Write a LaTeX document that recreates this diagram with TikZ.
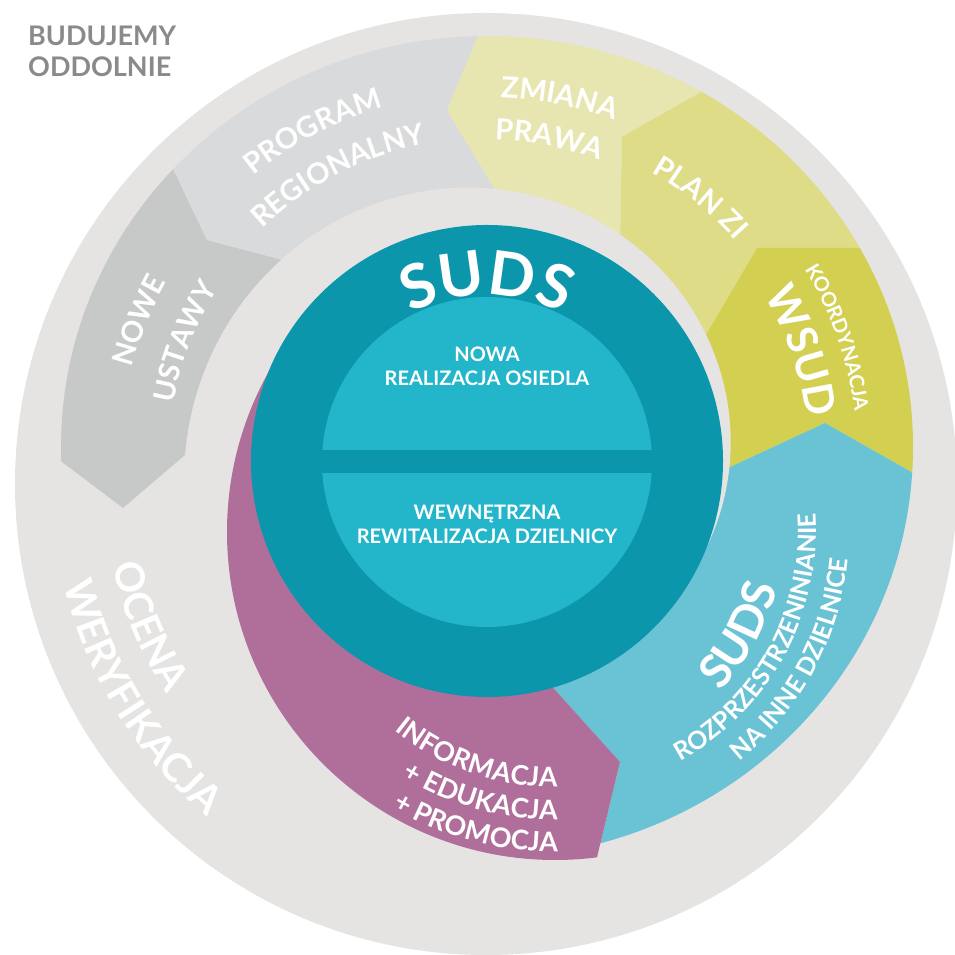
\documentclass[tikz,border=0pt]{standalone}
\usepackage{fontspec}
\setmainfont{Lato}
\usetikzlibrary{decorations.text,calc}
\definecolor{ringgray}{RGB}{229,228,227}
\definecolor{nowegray}{RGB}{199,200,200}
\definecolor{proggray}{RGB}{217,218,219}
\definecolor{zmianacol}{RGB}{232,230,176}
\definecolor{planzicol}{RGB}{222,220,134}
\definecolor{wsudcol}{RGB}{211,208,81}
\definecolor{sblue}{RGB}{106,195,213}
\definecolor{purp}{RGB}{176,111,155}
\definecolor{tealdark}{RGB}{11,150,171}
\definecolor{teallight}{RGB}{35,182,202}
\definecolor{textgray}{RGB}{138,138,138}
\newcommand\segfont{\fontsize{29}{29}\selectfont\bfseries}
\newcommand\smallsegfont{\fontsize{20}{20}\selectfont\bfseries}
\newcommand\bigsegfont{\fontsize{42}{42}\selectfont\bfseries}
\newcommand\lowfont{\fontsize{27}{27}\selectfont\bfseries}
\newcommand\rozfont{\fontsize{25}{25}\selectfont\bfseries}
\newcommand\sudsbfont{\fontsize{46}{46}\selectfont\bfseries}
\newcommand\ocenafont{\fontsize{40}{40}\selectfont\bfseries}
\newcommand\sudsfont{\fontsize{61}{61}\selectfont\bfseries}
\begin{document}
\begin{tikzpicture}[x=1pt,y=1pt,
  arctextc/.style={decorate, decoration={text along path, text align=center, text color=white, text={#1}}},
  arctextr/.style={decorate, decoration={text along path, text align=right, text color=white, text={#1}}},
  ctext/.style={text=white, font=\fontsize{20}{24}\selectfont\bfseries, align=center, inner sep=0pt},
  titletext/.style={text=textgray, font=\fontsize{27}{27}\selectfont\bfseries, inner sep=0pt, anchor=base west}]
\useasboundingbox (0,0) rectangle (954,955);
\coordinate (T) at (487,494);
\coordinate (O) at (486,471);
\coordinate (Pc) at (555,423);
\coordinate (Ec) at (487,508);

% outer gray disc
\fill[ringgray] (O) circle[radius=471];

% spiral band segments
\begin{scope}
\clip (Ec) ellipse[x radius=426, y radius=411];
\fill[nowegray] (T) -- (185,500) -- (123,447) -- (62,493) -- (0,493) -- ([shift={(170:700)}]T) -- ([shift={(150:700)}]T) -- ([shift={(140:700)}]T) -- (157,820) -- (207,715) -- (283,695) -- cycle;
\fill[proggray] (T) -- (283,695) -- (207,715) -- (157,820) -- ([shift={(130:700)}]T) -- ([shift={(110:700)}]T) -- ([shift={(95:700)}]T) -- (491,950) -- (447,845) -- (497,762) -- cycle;
\fill[zmianacol] (T) -- (497,762) -- (447,845) -- (491,950) -- ([shift={(85:700)}]T) -- ([shift={(70:700)}]T) -- (740,885) -- (622,818) -- (620,700) -- cycle;
\fill[planzicol] (T) -- (620,700) -- (622,818) -- (740,885) -- ([shift={(55:700)}]T) -- ([shift={(40:700)}]T) -- (1000,707) -- (757,707) -- (696,603) -- cycle;
\fill[wsudcol] (T) -- (696,603) -- (757,707) -- (1000,707) -- ([shift={(20:700)}]T) -- ([shift={(5:700)}]T) -- (957,457) -- (825,532) -- (700,474) -- cycle;
\fill[sblue] (T) -- (700,474) -- (825,532) -- (957,457) -- ([shift={(-10:700)}]T) -- ([shift={(-40:700)}]T) -- ([shift={(-70:700)}]T) -- (585,48) -- (620,193) -- (520,304) -- cycle;
\end{scope}

% inner gray gap (spiral)
\fill[ringgray] (T) -- plot[domain=-21:200, samples=120, variable=\t] ({487+(243+0.33*\t)*cos(\t)}, {494+(243+0.33*\t)*sin(\t)}) -- cycle;

% purple segment
\begin{scope}
\clip (T) -- (520,304) -- (620,193) -- (585,48) -- ([shift={(-100:700)}]T) -- ([shift={(-140:700)}]T) -- ([shift={(180:700)}]T) -- ([shift={(140:700)}]T) -- cycle;
\fill[purp] (Pc) circle[radius=328];
\end{scope}

% central discs
\fill[tealdark] (T) circle[radius=236];
\fill[teallight] (487,493) circle[radius=165];
\fill[tealdark] (300,482) rectangle (680,505);

% title
\node[titletext] (t1) at (28,909) {BUDUJEMY};
\node[titletext] (t2) at (28,878) {ODDOLNIE};

% centre texts
\path[arctextc={|\sudsfont|SUDS}] ([shift={(130:166)}]T) arc[start angle=130, end angle=50, radius=166];
\node[ctext] (nowa) at (487,589) {NOWA\\REALIZACJA OSIEDLA};
\node[ctext] (wewn) at (487,431) {WEWNĘTRZNA\\REWITALIZACJA DZIELNICY};

% upper segment texts (centre T, clockwise)
\path[arctextc={|\segfont|NOWE}] ([shift={(188:367)}]T) arc[start angle=188, end angle=128, radius=367];
\path[arctextc={|\segfont|USTAWY}] ([shift={(193.5:319)}]T) arc[start angle=193.5, end angle=123.5, radius=319];
\path[arctextc={|\segfont|PROGRAM}] ([shift={(150:369)}]T) arc[start angle=150, end angle=85.6, radius=369];
\path[arctextc={|\segfont|REGIONALNY}] ([shift={(160:323)}]T) arc[start angle=160, end angle=75, radius=323];
\path[arctextc={|\segfont|ZMIANA}] ([shift={(110:364)}]T) arc[start angle=110, end angle=47.4, radius=364];
\path[arctextc={|\segfont|PRAWA}] ([shift={(110:321)}]T) arc[start angle=110, end angle=48, radius=321];
\path[arctextc={|\segfont|PLAN ZI}] ([shift={(85:332)}]T) arc[start angle=85, end angle=17, radius=332];
\path[arctextc={|\smallsegfont|KOORDYNACJA}] ([shift={(55:371)}]T) arc[start angle=55, end angle=-16.2, radius=371];
\path[arctextc={|\bigsegfont|WSUD}] ([shift={(55:323)}]T) arc[start angle=55, end angle=-16.4, radius=323];

% lower texts (centre Pc, counter-clockwise)
\path[arctextr={|\lowfont|INFORMACJA}] ([shift={(-170:255)}]Pc) arc[start angle=-170, end angle=-89.5, radius=255];
\path[arctextr={|\lowfont|+ EDUKACJA}] ([shift={(-160:288)}]Pc) arc[start angle=-160, end angle=-89.5, radius=288];
\path[arctextr={|\lowfont|+ PROMOCJA}] ([shift={(-160:320)}]Pc) arc[start angle=-160, end angle=-89.5, radius=320];
\path[arctextc={|\sudsbfont|SUDS}] ([shift={(-69:229)}]Pc) arc[start angle=-69, end angle=11, radius=229];
\path[arctextc={|\rozfont|ROZPRZESTRZENINIANIE}] ([shift={(-88.6:261)}]Pc) arc[start angle=-88.6, end angle=31.4, radius=261];
\path[arctextc={|\rozfont|NA INNE DZIELNICE}] ([shift={(-78.2:294)}]Pc) arc[start angle=-78.2, end angle=21.8, radius=294];

% outer ring texts (centre O, counter-clockwise)
\path[arctextc={|\ocenafont|OCENA}] ([shift={(177.9:382)}]O) arc[start angle=177.9, end angle=227.9, radius=382];
\path[arctextc={|\ocenafont|WERYFIKACJA}] ([shift={(181.7:434)}]O) arc[start angle=181.7, end angle=241.7, radius=434];
\end{tikzpicture}
\end{document}
